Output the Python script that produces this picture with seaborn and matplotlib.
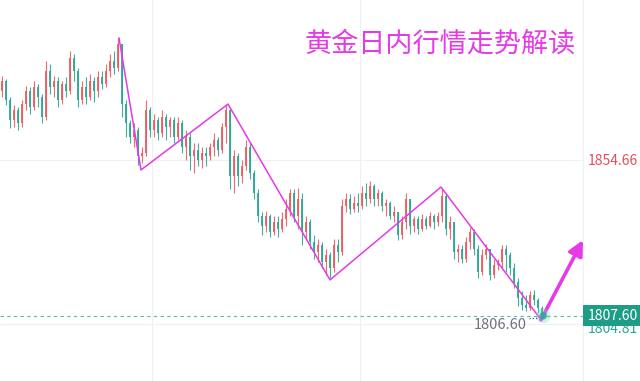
#!/usr/bin/env python3
"""Gold intraday candlestick chart with zigzag trend annotation"""

import matplotlib
matplotlib.use("Agg")
import matplotlib.pyplot as plt
from matplotlib.patches import Rectangle
import seaborn as sns
import numpy as np

# Candle data, open of each bar = previous close
first_open = 1876
closes = [
    1879, 1873, 1867, 1870, 1866, 1872, 1876, 1871, 1877, 1874,
    1868, 1882, 1877, 1879, 1873, 1878, 1876, 1886, 1882, 1873,
    1877, 1874, 1879, 1876, 1880, 1878, 1882, 1885, 1883, 1890,
    1872, 1866, 1862, 1864, 1856, 1857,
    1870, 1864, 1867, 1863, 1868, 1865, 1867, 1862, 1866, 1859,
    1862, 1856, 1858, 1855, 1857, 1856, 1859, 1861, 1858, 1865, 1870,
    1850, 1856, 1850, 1853, 1859, 1851, 1845, 1838,
    1835, 1838, 1833, 1836, 1834, 1837, 1840, 1845, 1838, 1843, 1833,
    1836, 1830, 1827, 1829, 1824, 1826, 1822, 1829, 1827, 1841,
    1843, 1840, 1842, 1841, 1845, 1843, 1847, 1843, 1845, 1841,
    1842, 1838, 1839, 1832, 1836, 1843, 1835, 1837, 1834, 1837,
    1835, 1838, 1836, 1838, 1844, 1834, 1836, 1827, 1828, 1825,
    1830, 1833, 1828, 1821, 1826, 1828, 1820, 1823, 1824, 1828,
    1826, 1822, 1818, 1813, 1811, 1810, 1814, 1812.5, 1810, 1807.6,
]
highs = [
    1880.5, 1879.5, 1874, 1871.5, 1871, 1873, 1877.5, 1877, 1879, 1878,
    1875, 1885, 1884, 1880.5, 1880, 1879, 1880, 1888, 1887, 1883,
    1879, 1880, 1881, 1880, 1882, 1882, 1884, 1887, 1888, 1892,
    1890, 1873, 1867, 1866, 1865, 1859,
    1873, 1871, 1869, 1868, 1870, 1869, 1868, 1868, 1868, 1867,
    1864, 1863, 1860, 1860, 1859, 1859, 1860, 1863, 1862, 1866, 1871.5,
    1870.5, 1858, 1857, 1855, 1861, 1860, 1852, 1846,
    1839, 1839.5, 1838.5, 1838, 1838, 1839, 1843, 1846, 1846, 1846.5, 1845,
    1838, 1837, 1832, 1831, 1830, 1828, 1827, 1831, 1831, 1843,
    1845, 1844.5, 1844, 1845, 1847, 1848, 1848.5, 1847.5, 1846, 1845.5,
    1843, 1842.5, 1841, 1839, 1838, 1845, 1843, 1838, 1838, 1838.5,
    1838, 1839, 1838.5, 1839, 1846.5, 1845, 1838, 1836, 1829.5, 1829,
    1831.5, 1834.5, 1834, 1829, 1828, 1829.5, 1828, 1825, 1825, 1829,
    1829, 1827, 1823.5, 1819, 1815, 1814, 1815, 1815.5, 1813, 1810.5,
]
lows = [
    1874, 1871.5, 1864.5, 1865, 1864, 1865, 1870, 1869, 1870, 1871,
    1866, 1867, 1875, 1874, 1871, 1872, 1874, 1875, 1879, 1871,
    1872, 1872, 1873, 1872.5, 1874, 1876.5, 1877, 1880, 1881, 1882,
    1868, 1862, 1860, 1859, 1853.5, 1854,
    1856, 1862, 1862, 1861, 1862, 1861, 1862, 1860, 1861, 1857,
    1855, 1852, 1851, 1853, 1852.5, 1853, 1855, 1856, 1856, 1857, 1860,
    1846, 1845, 1847, 1848, 1852, 1849, 1843, 1836,
    1832, 1833, 1831.5, 1832, 1831.5, 1833, 1835, 1838, 1836, 1834, 1829,
    1831, 1828, 1825, 1824, 1822, 1820, 1819, 1821, 1824, 1826,
    1839, 1838.5, 1839, 1839, 1840, 1841, 1842, 1841, 1841, 1839.5,
    1838, 1837, 1836, 1830.5, 1831, 1834, 1832.5, 1833, 1832.5, 1833.5,
    1834, 1834.5, 1834, 1835, 1836, 1832, 1831, 1825, 1824, 1823.5,
    1824, 1828, 1826, 1819, 1820, 1825, 1818.5, 1819, 1821.5, 1822,
    1821, 1820, 1816, 1810.5, 1809.5, 1809, 1809.5, 1811, 1808.5, 1806.6,
]

# Zigzag swing points (bar position, price) and the projected arrow
zig_x = [29.25, 34.75, 56.5, 82.0, 109.75, 134.75]
zig_y = [1892.0, 1851.9, 1871.9, 1818.5, 1846.7, 1806.4]
arrow_tip = (145.25, 1830.6)

last_price = 1807.60
low_price = 1806.60
alert_price = 1854.66
prev_price = 1804.81
grid_prices = [1855, 1805]
grid_bars = [37.5, 89.5]

title = "黄金日内行情走势解读"

UP = "#ec5b62"      # red = rising (Chinese convention)
DOWN = "#2aa894"    # teal = falling
MAGENTA = "#e53ae6"

sns.set_style("white")
plt.rcParams['font.family'] = ['Noto Sans CJK SC', 'DejaVu Sans']

fig = plt.figure(figsize=(6.4, 3.81), dpi=100)
ax = fig.add_axes([0, 0, 583 / 640, 1])

opens = [first_open] + closes[:-1]
x = np.arange(len(closes))
o = np.array(opens)
c = np.array(closes)
colors = [UP if cc >= oo else DOWN for oo, cc in zip(o, c)]

# grid
for gp in grid_prices:
    ax.axhline(gp, color="#eef0f4", lw=0.8, zorder=0)
for gb in grid_bars:
    ax.axvline(gb, color="#eef0f4", lw=0.8, zorder=0)

# candles
ax.vlines(x, lows, highs, colors=colors, lw=0.8, zorder=2, alpha=0.9)
heights = np.where(np.abs(c - o) < 0.3, 0.3, c - o)
ax.bar(x, heights, bottom=o, width=0.62, color=colors, edgecolor="none",
       zorder=3, alpha=0.9)

# last price dashed line
ax.axhline(last_price, color="#4cbfae", lw=0.8, ls=(0, (3, 3)), zorder=1)

# zigzag
sns.lineplot(x=zig_x, y=zig_y, sort=False, color=MAGENTA, lw=1.1,
             ax=ax, zorder=5)
ax.annotate("", xy=arrow_tip, xytext=(zig_x[-1], zig_y[-1]),
            arrowprops=dict(arrowstyle="-|>,head_length=0.9,head_width=0.45",
                            color=MAGENTA, lw=2.6, shrinkA=0, shrinkB=0),
            annotation_clip=False, zorder=6)

# glowing last point
ax.scatter([x[-1] + 0.3], [last_price], s=110, color="#7fd3c4", alpha=0.35,
           edgecolor="none", zorder=6)
ax.scatter([x[-1] + 0.3], [last_price], s=30, color="#2aa894", alpha=0.8,
           edgecolor="none", zorder=6)

# low label with dotted leader
ax.annotate(f"{low_price:.2f}", xy=(x[-1] - 1, low_price), xytext=(-8, -4),
            textcoords="offset points", ha="right", va="center",
            fontsize=10.5, color="#6f727c", zorder=7)
ax.plot([x[-1] - 3.2, x[-1] - 1], [low_price + 0.4] * 2, ls=(0, (1, 1.6)),
        color="#555555", lw=0.9, zorder=7)

ax.set_xlim(-0.5, 145.25)
ax.set_ylim(1787.8, 1903.5)
ax.set_axis_off()

# right price scale
ytrans = ax.get_yaxis_transform()
ax.plot([1.0, 1.0], [0, 1], transform=ax.transAxes, color="#eef0f4",
        lw=0.8, clip_on=False)
ax.text(1.008, alert_price, f"{alert_price:.2f}", transform=ytrans,
        ha="left", va="center", fontsize=10, color="#e0505a", clip_on=False)
ax.annotate(f"{prev_price:.2f}", xy=(1.008, prev_price), xycoords=ytrans,
            xytext=(0, -3), textcoords="offset points", ha="left",
            va="center", fontsize=10, color="#2aa894",
            annotation_clip=False, zorder=8)
ax.add_patch(Rectangle((1.0, last_price - 3.2), 57 / 583, 6.4,
                       transform=ytrans, facecolor="#1e9d86",
                       edgecolor="none", clip_on=False, zorder=9))
ax.text(1.008, last_price, f"{last_price:.2f}", transform=ytrans,
        ha="left", va="center", fontsize=10, color="white",
        clip_on=False, zorder=10)

fig.text(440 / 640, 1 - 44 / 381, title, ha="center", va="center",
         fontsize=19.5, color=MAGENTA)

plt.savefig("out.png", dpi=100)
plt.close()
